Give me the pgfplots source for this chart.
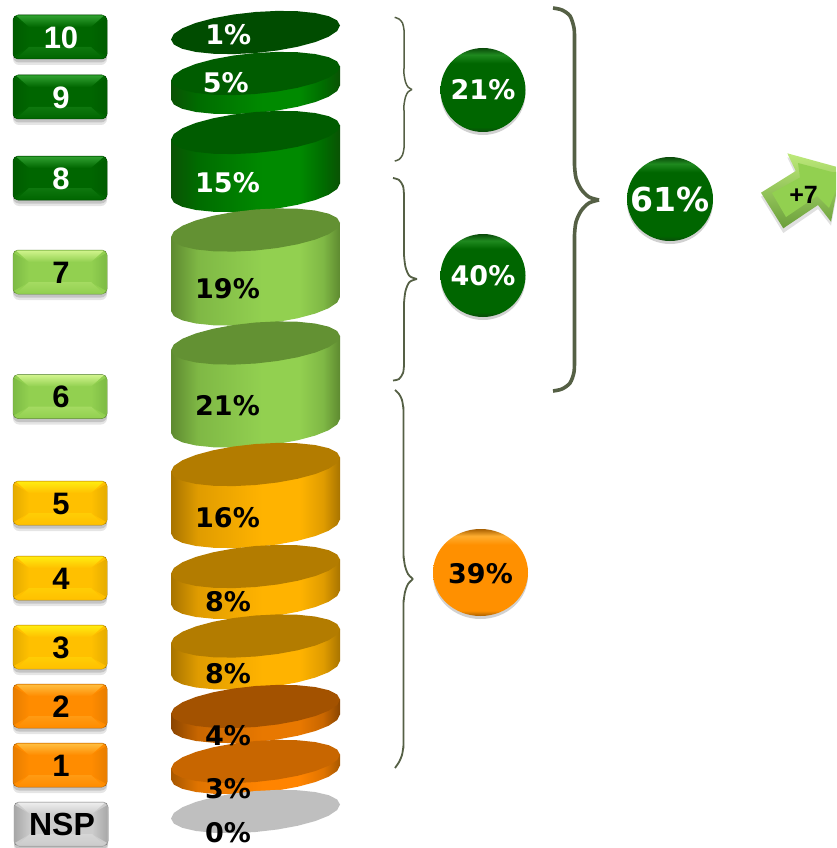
\documentclass[border=0pt]{standalone}
\usepackage{fontspec}
\setmainfont{DejaVu Sans}
\newfontfamily\libsans{Liberation Sans}
\usepackage{pgfplots}
\usepackage{pgfplotstable}
\pgfplotsset{compat=1.18}
\usetikzlibrary{shadows,shapes.geometric}

% colours: base, top bevel, side bevel
\definecolor{gbase}{HTML}{006600}\definecolor{gtop}{HTML}{2FA02F}\definecolor{gside}{HTML}{005C00}
\definecolor{lbase}{HTML}{92D050}\definecolor{ltop}{HTML}{D0F48C}\definecolor{lside}{HTML}{7DBB45}
\definecolor{ybase}{HTML}{FFC000}\definecolor{ytop}{HTML}{FFEC10}\definecolor{yside}{HTML}{E5AC00}
\definecolor{obase}{HTML}{FF8C00}\definecolor{otop}{HTML}{FFBE40}\definecolor{oside}{HTML}{E87E00}
\definecolor{sbase}{HTML}{CCCCCC}\definecolor{stop}{HTML}{EDEDED}\definecolor{sside}{HTML}{A8A8A8}
\definecolor{bracec}{HTML}{556045}

% cylinder bodies, edge / middle / bright
\definecolor{c8a}{HTML}{0A5204}\definecolor{c8b}{HTML}{006C00}\definecolor{c8c}{HTML}{008A00}
\definecolor{c7a}{HTML}{5E8A30}\definecolor{c7b}{HTML}{7FB845}\definecolor{c7c}{HTML}{92D050}
\definecolor{c5a}{HTML}{A87400}\definecolor{c5b}{HTML}{E09C00}\definecolor{c5c}{HTML}{FFB300}
\definecolor{c2a}{HTML}{8A4500}\definecolor{c2b}{HTML}{C86600}\definecolor{c2c}{HTML}{E87800}
\definecolor{c1a}{HTML}{A85800}\definecolor{c1b}{HTML}{E07400}\definecolor{c1c}{HTML}{FF8400}
\newcommand\bodyshade[4]{\pgfdeclarehorizontalshading{#1}{100bp}{color(0bp)=(#2); color(25bp)=(#2); color(33bp)=(#3); color(52bp)=(#4); color(63bp)=(#4); color(70bp)=(#3); color(75bp)=(#2); color(100bp)=(#2)}}
\bodyshade{body8}{c8a}{c8b}{c8c}
\bodyshade{body7}{c7a}{c7b}{c7c}
\bodyshade{body5}{c5a}{c5b}{c5c}
\bodyshade{body2}{c2a}{c2b}{c2c}
\bodyshade{body1}{c1a}{c1b}{c1c}

\definecolor{ballg}{HTML}{006600}\definecolor{ballgl}{HTML}{1F8A1F}\definecolor{ballgd}{HTML}{0A4A0A}
\definecolor{ballo}{HTML}{FF9000}\definecolor{ballol}{HTML}{FFAE30}\definecolor{ballod}{HTML}{A86000}
\pgfdeclareverticalshading{ballgreen}{100bp}{color(0bp)=(ballgd); color(25bp)=(ballgd); color(28bp)=(ballg); color(66bp)=(ballg); color(71bp)=(ballgl); color(75bp)=(ballgd); color(100bp)=(ballgd)}
\pgfdeclareverticalshading{ballorange}{100bp}{color(0bp)=(ballod); color(25bp)=(ballod); color(28bp)=(ballo); color(66bp)=(ballo); color(71bp)=(ballol); color(75bp)=(ballod); color(100bp)=(ballod)}

% ellipse outline around its centre, in picture pixels (y downwards)
\pgfplotstableread{
dx dy
84.5 -7
81.6 -1.45
73.2 4.19
59.75 9.55
42.25 14.25
21.9 17.99
0 20.5
-21.9 21.61
-42.25 21.25
-59.75 19.45
-73.2 16.31
-81.6 12.07
-84.5 7
-81.6 1.45
-73.2 -4.19
-59.75 -9.55
-42.25 -14.25
-21.9 -17.99
0 -20.5
21.9 -21.61
42.25 -21.25
59.75 -19.45
73.2 -16.31
81.6 -12.07
}\ellshape
% side of a cylinder: k=1 is moved down by the height
\pgfplotstableread{
dx dy k
84.5 -7 0
84.5 -7 1
81.6 -1.45 1
73.2 4.19 1
59.75 9.55 1
42.25 14.25 1
21.9 17.99 1
0 20.5 1
-21.9 21.61 1
-42.25 21.25 1
-59.75 19.45 1
-73.2 16.31 1
-81.6 12.07 1
-84.5 7 1
-84.5 7 0
}\bodyshape
% button parts around the button centre
\pgfplotstableread{
dx dy
-47 -22
47 -22
47 22
-47 22
}\btnrect
\pgfplotstableread{
dx dy
-44 -21.5
44 -21.5
31 -10
-31 -10
}\bevtop
\pgfplotstableread{
dx dy
-46.5 -19
-31 -10
-31 10
-46.5 19
}\bevleft
\pgfplotstableread{
dx dy
46.5 -19
31 -10
31 10
46.5 19
}\bevright
\pgfplotstableread{
dx dy
-44 21.5
44 21.5
31 10
-31 10
}\bevbot

\newcommand\cyl[4]{% centre y, height, shading, top colour
  \addplot[draw=none,shading=#3] table[x expr=255.5+\thisrow{dx},y expr=#1+\thisrow{dy}+#2*\thisrow{k}] {\bodyshape} --cycle;
  \addplot[draw=none,fill=#4] table[x expr=255.5+\thisrow{dx},y expr=#1+\thisrow{dy}] {\ellshape} --cycle;
}
\newcommand\disc[2]{% centre y, colour
  \addplot[draw=none,fill=#2] table[x expr=255.5+\thisrow{dx},y expr=#1+\thisrow{dy}] {\ellshape} --cycle;
}
\newcommand\lab[4]{% x, y, text, style
  \addplot[draw=none,mark=none,nodes near coords={#3},
    every node near coord/.style={anchor=center,inner sep=0pt,#4}] coordinates {(#1,#2)};
}
\newcommand\btn[3]{% centre x, centre y, colour letter
  \addplot[draw=none,fill=black,opacity=.10,rounded corners=6pt] table[x expr=#1+\thisrow{dx},y expr=#2+6+\thisrow{dy}] {\btnrect} --cycle;
  \addplot[draw=none,fill=black,opacity=.14,rounded corners=6pt] table[x expr=#1+\thisrow{dx},y expr=#2+3.5+\thisrow{dy}] {\btnrect} --cycle;
  \addplot[draw=#3side!70!black,line width=.5pt,fill=#3base,rounded corners=5pt] table[x expr=#1+\thisrow{dx},y expr=#2+\thisrow{dy}] {\btnrect} --cycle;
  \addplot[draw=none,left color=#3side,right color=#3base] table[x expr=#1+\thisrow{dx},y expr=#2+\thisrow{dy}] {\bevleft} --cycle;
  \addplot[draw=none,left color=#3base,right color=#3side] table[x expr=#1+\thisrow{dx},y expr=#2+\thisrow{dy}] {\bevright} --cycle;
  \addplot[draw=none,top color=#3base!70!#3top,bottom color=#3base] table[x expr=#1+\thisrow{dx},y expr=#2+\thisrow{dy}] {\bevbot} --cycle;
  \addplot[draw=none,top color=#3top,bottom color=#3base] table[x expr=#1+\thisrow{dx},y expr=#2+\thisrow{dy}] {\bevtop} --cycle;
}
\newcommand\ball[5]{% x, y, width, height, shading
  \addplot[draw=none,mark=none,nodes near coords={},
    every node near coord/.style={anchor=center,inner sep=0pt,ellipse,minimum width=#3pt,minimum height=#4pt,
      shading=#5,drop shadow={shadow xshift=0pt,shadow yshift=-3pt,opacity=.18,fill=black}}] coordinates {(#1,#2)};
}

\tikzset{
  pct/.style={font=\fontsize{27}{27}\selectfont\bfseries,text=#1},
  num/.style={font=\libsans\fontsize{31}{31}\selectfont\bfseries,text=#1},
}

\begin{document}
\begin{tikzpicture}
\path[use as bounding box,fill=white] (0,0) rectangle (836pt,848pt);
\begin{axis}[
  scale only axis,width=836pt,height=848pt,
  xmin=0,xmax=836,ymin=0,ymax=848,
  y dir=reverse,hide axis,clip=false,
]
% cylinders, one per score
\disc{32.5}{black!0!green!30!black}
\cyl{73.5}{19}{body8}{gside}
\cyl{132.5}{58}{body8}{gside}
\cyl{230}{74}{body7}{c7a!85!c7b}
\cyl{343}{83}{body7}{c7a!85!c7b}
\cyl{464.5}{62}{body5}{c5a!80!c5b}
\cyl{566.5}{31}{body5}{c5a!80!c5b}
\cyl{636}{32}{body5}{c5a!80!c5b}
\cyl{706.5}{15}{body2}{c2a!60!c2b}
\cyl{761.5}{11}{body1}{c2b}
\disc{811.5}{black!25}

% score buttons
\btn{60}{37}{g}
\btn{60}{97}{g}
\btn{60}{178}{g}
\btn{60}{272}{l}
\btn{60}{396.5}{l}
\btn{60}{503}{y}
\btn{60}{578}{y}
\btn{60}{647}{y}
\btn{60}{706}{o}
\btn{60}{765}{o}
\btn{61}{824}{s}
\lab{61}{38}{10}{num=white}
\lab{61}{98}{9}{num=white}
\lab{61}{179}{8}{num=white}
\lab{61}{273}{7}{num=black}
\lab{61}{397}{6}{num=black}
\lab{61}{504}{5}{num=black}
\lab{61}{579}{4}{num=black}
\lab{61}{648}{3}{num=black}
\lab{61}{707}{2}{num=black}
\lab{61}{766}{1}{num=black}
\lab{62}{824}{NSP}{font=\libsans\fontsize{32}{32}\selectfont\bfseries}

% percentages on the cylinders
\lab{228.3}{35}{1\%}{pct=white}
\lab{225.8}{82.5}{5\%}{pct=white}
\lab{227.5}{182.5}{15\%}{pct=white}
\lab{227.5}{288.8}{19\%}{pct=black}
\lab{227.5}{405.8}{21\%}{pct=black}
\lab{227.5}{517.5}{16\%}{pct=black}
\lab{228}{602}{8\%}{pct=black}
\lab{228}{673.5}{8\%}{pct=black}
\lab{228}{736}{4\%}{pct=black}
\lab{228}{789}{3\%}{pct=black}
\lab{228}{833}{0\%}{pct=black}

% braces
\addplot[smooth,bracec,line width=1.5pt] coordinates {(394.7,17.3) (399,19) (402.5,23) (404,30) (404,36) (404,68) (404,74) (405.5,82) (408,87) (412,89.5)};
\addplot[smooth,bracec,line width=1.5pt] coordinates {(412,89.5) (408,92) (405.5,97) (404,105) (404,111) (404,142) (404,148) (402.5,155) (399,159.5) (394.7,161)};
\addplot[smooth,bracec,line width=1.8pt] coordinates {(393,178) (399,180) (403,186) (404,195) (404,201) (404,249) (404,255) (405.5,267) (409.5,276) (417,279)};
\addplot[smooth,bracec,line width=1.8pt] coordinates {(417,279) (409.5,282) (405.5,291) (404,303) (404,309) (404,359) (404,365) (403,373) (399,379) (393,380.5)};
\addplot[smooth,bracec,line width=1.8pt] coordinates {(395,390) (399,394) (402,400) (403.5,410) (403.5,416) (403.5,549) (403.5,555) (405,566) (408,574) (413,579)};
\addplot[smooth,bracec,line width=1.8pt] coordinates {(413,579) (408,584) (405,592) (403.5,603) (403.5,609) (403.5,739) (403.5,745) (402,755) (399,762) (395,768)};
\addplot[smooth,bracec,line width=3.6pt] coordinates {(553,8) (562,10) (570,16) (574,28) (574.5,40) (574.5,50) (574.5,155) (574.5,165) (576,178) (581,189) (589,197) (599,200)};
\addplot[smooth,bracec,line width=3.6pt] coordinates {(599,200) (589,203) (581,211) (576,222) (574.5,235) (574.5,245) (574.5,348) (574.5,358) (574,372) (570,383) (562,389) (553,391)};

% group totals
\ball{483}{90}{85}{84}{ballgreen}
\ball{483}{275.5}{85}{83}{ballgreen}
\ball{670}{199}{86}{84}{ballgreen}
\ball{480.5}{572.5}{95}{87}{ballorange}
\lab{483}{90}{21\%}{pct=white}
\lab{483}{275.5}{40\%}{pct=white}
\lab{670}{199.5}{\fontsize{33}{33}\selectfont 61\%}{pct=white}
\lab{480.5}{574}{39\%}{pct=black}

% arrow with the change
\addplot[draw=none,fill=black,opacity=.12] coordinates {(761,196.7) (795.7,175) (787.3,157.3) (836,170.7) (836,199) (831,225.7) (818,209) (783.3,233)} --cycle;
\addplot[draw=none,top color=ltop!70!lbase,bottom color=lside!85!black] coordinates {(761,192.7) (795.7,171) (787.3,153.3) (836,166.7) (836,195) (831,221.7) (818,205) (783.3,228.3)} --cycle;
\addplot[draw=none,fill=lbase] coordinates {(772,193) (800,177.5) (798,163) (832,172) (836,172) (836,190) (829,208) (817,196) (786,217)} --cycle;
\lab{803.5}{195}{+7}{font=\libsans\fontsize{25}{25}\selectfont\bfseries}
\end{axis}
\end{tikzpicture}
\end{document}
